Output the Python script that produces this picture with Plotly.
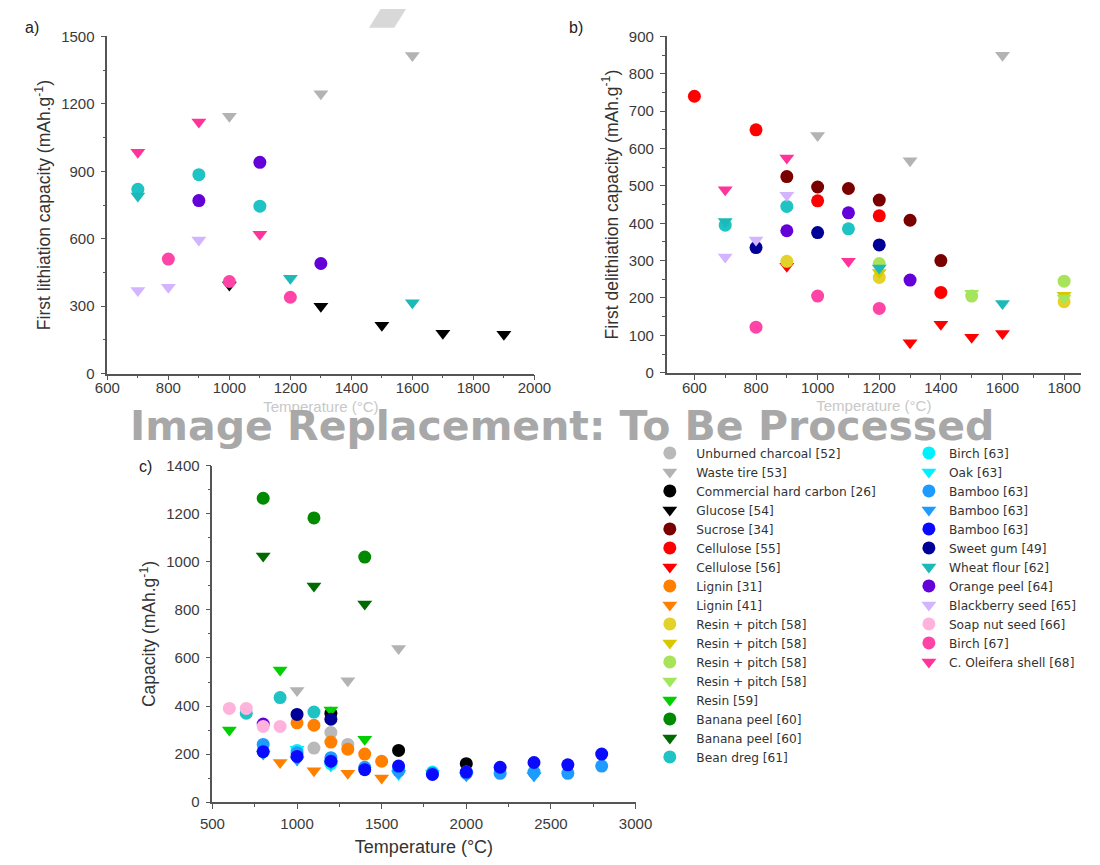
import plotly.graph_objects as go

# ---------------- data (temperature °C, capacity mAh/g) ----------------
unburned_charcoal_c = [(1100, 225), (1200, 290), (1300, 240)]
waste_tire_a = [(1000, 1145), (1300, 1245), (1600, 1415)]
waste_tire_b = [(1000, 635), (1300, 567), (1600, 850)]
waste_tire_c = [(1000, 465), (1300, 505), (1600, 640)]
hard_carbon_c = [(1200, 370), (1600, 215), (2000, 160)]
glucose_a = [(1000, 395), (1300, 300), (1500, 215), (1700, 180), (1900, 175)]
sucrose_b = [(900, 525), (1000, 497), (1100, 493), (1200, 462), (1300, 408), (1400, 300)]
cellulose55_b = [(600, 740), (800, 650), (1000, 460), (1200, 420), (1400, 215)]
cellulose56_b = [(900, 285), (1300, 80), (1400, 130), (1500, 95), (1600, 105)]
lignin31_c = [(1000, 330), (1100, 320), (1200, 250), (1300, 220), (1400, 200), (1500, 170)]
lignin41_c = [(900, 165), (1100, 130), (1300, 120), (1500, 100)]
resin_pitch1_b = [(900, 298), (1200, 255), (1800, 190)]
resin_pitch2_b = [(1200, 268), (1800, 207)]
resin_pitch3_b = [(1200, 292), (1500, 205), (1800, 245)]
resin_pitch4_b = [(1500, 213), (1800, 200)]
resin59_c = [(600, 300), (900, 550), (1200, 383), (1400, 262)]
banana1_c = [(800, 1265), (1100, 1183), (1400, 1020)]
banana2_c = [(800, 1025), (1100, 900), (1400, 825)]
bean_dreg_a = [(700, 820), (900, 885), (1100, 745)]
bean_dreg_b = [(700, 395), (900, 445), (1100, 385)]
bean_dreg_c = [(700, 370), (900, 435), (1100, 375)]
birch63_c = [(1000, 215), (1200, 160), (1600, 140), (1800, 125), (2000, 125)]
oak63_c = [(1000, 220), (1200, 150), (1600, 115), (1800, 120), (2400, 110)]
bamboo1_c = [(800, 240), (1000, 205), (1200, 185), (1400, 145), (1600, 130), (1800, 120),
             (2000, 120), (2200, 120), (2400, 125), (2600, 120), (2800, 150)]
bamboo2_c = [(800, 200), (1000, 175), (1200, 160), (1600, 120), (2000, 110), (2400, 110)]
bamboo3_c = [(800, 210), (1000, 190), (1200, 170), (1400, 135), (1600, 150), (1800, 115),
             (2000, 125), (2200, 145), (2400, 165), (2600, 155), (2800, 200)]
sweet_gum_b = [(800, 335), (1000, 375), (1200, 342)]
sweet_gum_c = [(1000, 365), (1200, 345)]
wheat_flour_a = [(700, 790), (1200, 425), (1600, 315)]
wheat_flour_b = [(700, 405), (1200, 280), (1600, 185)]
orange_peel_a = [(900, 770), (1100, 940), (1300, 490)]
orange_peel_b = [(900, 380), (1100, 428), (1300, 248)]
orange_peel_c = [(800, 325)]
blackberry_a = [(700, 370), (800, 385), (900, 595)]
blackberry_b = [(700, 310), (800, 355), (900, 475)]
soap_nut_c = [(600, 390), (700, 390), (800, 315), (900, 315)]
birch67_a = [(800, 510), (1000, 410), (1200, 340)]
birch67_b = [(800, 122), (1000, 205), (1200, 172)]
oleifera_a = [(700, 985), (900, 1120), (1100, 620)]
oleifera_b = [(700, 490), (900, 575), (1100, 298)]

# (name, colour, symbol, data a, data b, data c, legend)
series = [
    ("Unburned charcoal [52]", "#b9b9b9", "circle", None, None, unburned_charcoal_c, 1),
    ("Waste tire [53]", "#b3b3b3", "triangle-down", waste_tire_a, waste_tire_b, waste_tire_c, 1),
    ("Commercial hard carbon [26]", "#000000", "circle", None, None, hard_carbon_c, 1),
    ("Glucose [54]", "#000000", "triangle-down", glucose_a, None, None, 1),
    ("Sucrose [34]", "#7a0000", "circle", None, sucrose_b, None, 1),
    ("Cellulose [55]", "#ff0000", "circle", None, cellulose55_b, None, 1),
    ("Cellulose [56]", "#ff0000", "triangle-down", None, cellulose56_b, None, 1),
    ("Lignin [31]", "#ff8000", "circle", None, None, lignin31_c, 1),
    ("Lignin [41]", "#ff8000", "triangle-down", None, None, lignin41_c, 1),
    ("Resin + pitch [58]", "#e3d22a", "circle", None, resin_pitch1_b, None, 1),
    ("Resin + pitch [58] ", "#d9c800", "triangle-down", None, resin_pitch2_b, None, 1),
    ("Resin + pitch [58]  ", "#a9e35a", "circle", None, resin_pitch3_b, None, 1),
    ("Resin + pitch [58]   ", "#a2e65c", "triangle-down", None, resin_pitch4_b, None, 1),
    ("Resin [59]", "#00d000", "triangle-down", None, None, resin59_c, 1),
    ("Banana peel [60]", "#008a00", "circle", None, None, banana1_c, 1),
    ("Banana peel [60] ", "#006a00", "triangle-down", None, None, banana2_c, 1),
    ("Bean dreg [61]", "#1fc3c3", "circle", bean_dreg_a, bean_dreg_b, bean_dreg_c, 1),
    ("Birch [63]", "#00f0ff", "circle", None, None, birch63_c, 2),
    ("Oak [63]", "#00f0ff", "triangle-down", None, None, oak63_c, 2),
    ("Bamboo [63]", "#1e9bff", "circle", None, None, bamboo1_c, 2),
    ("Bamboo [63] ", "#1e9bff", "triangle-down", None, None, bamboo2_c, 2),
    ("Bamboo [63]  ", "#0a0aff", "circle", None, None, bamboo3_c, 2),
    ("Sweet gum [49]", "#000096", "circle", None, sweet_gum_b, sweet_gum_c, 2),
    ("Wheat flour [62]", "#1cb9b9", "triangle-down", wheat_flour_a, wheat_flour_b, None, 2),
    ("Orange peel [64]", "#6400d8", "circle", orange_peel_a, orange_peel_b, orange_peel_c, 2),
    ("Blackberry seed [65]", "#d2b4ff", "triangle-down", blackberry_a, blackberry_b, None, 2),
    ("Soap nut seed [66]", "#ffb3dc", "circle", None, None, soap_nut_c, 2),
    ("Birch [67]", "#ff44a8", "circle", birch67_a, birch67_b, None, 2),
    ("C. Oleifera shell [68]", "#ff3399", "triangle-down", oleifera_a, oleifera_b, None, 2),
]

axes_pairs = [("x", "y"), ("x2", "y2"), ("x3", "y3")]

fig = go.Figure()
for name, color, symbol, da, db, dc, leg in series:
    first = True
    for data, (xa, ya) in zip((da, db, dc), axes_pairs):
        if not data:
            continue
        fig.add_trace(go.Scatter(
            x=[p[0] for p in data], y=[p[1] for p in data],
            mode="markers", name=name, legendgroup=name,
            showlegend=first, legend="legend" if leg == 1 else "legend2",
            marker=dict(color=color, symbol=symbol, size=13, line=dict(width=0)),
            xaxis=xa, yaxis=ya,
        ))
        first = False

W, H = 1100, 865
def px_x(v): return v / W
def px_y(v): return 1 - v / H

FONT = "Arial, Liberation Sans, sans-serif"
LEGFONT = "DejaVu Sans, sans-serif"
axis_common = dict(showgrid=False, zeroline=False, showline=True, linecolor="#555555",
                   linewidth=1.6, ticks="outside", ticklen=5, tickwidth=1.4,
                   tickcolor="#555555", tickfont=dict(family=FONT, size=15, color="#3a3a3a"),
                   mirror=False)

def minor(d):
    return dict(ticks="outside", ticklen=3, tickwidth=1.2, tickcolor="#555555", dtick=d)

TITLE_FONT = dict(family=FONT, size=17.5, color="#333333")

fig.update_layout(
    width=W, height=H, margin=dict(l=0, r=0, t=0, b=0),
    plot_bgcolor="white", paper_bgcolor="white",
    font=dict(family=FONT, color="#333333"),
    xaxis=dict(domain=[px_x(97), px_x(536)], range=[600, 2000], dtick=200, minor=minor(100),
               anchor="y", ticklabelstandoff=-5,
               title=dict(text="Temperature (°C)", font=dict(family=FONT, size=15, color="#c8c8c8"), standoff=6),
               **axis_common),
    yaxis=dict(domain=[px_y(372), px_y(28)], range=[0, 1500], dtick=300, minor=minor(150),
               anchor="x", ticklabelstandoff=3,
               title=dict(text="First lithiation capacity (mAh.g<sup>-1</sup>)", font=TITLE_FONT, standoff=6),
               **axis_common),
    xaxis2=dict(domain=[px_x(672), px_x(1098)], range=[510, 1855], dtick=200, minor=minor(100),
                anchor="y2", ticklabelstandoff=-5,
                title=dict(text="Temperature (°C)", font=dict(family=FONT, size=15, color="#c8c8c8"), standoff=6),
                **axis_common),
    yaxis2=dict(domain=[px_y(371), px_y(28)], range=[0, 900], dtick=100, minor=minor(50),
                anchor="x2", ticklabelstandoff=3,
                title=dict(text="First delithiation capacity (mAh.g<sup>-1</sup>)", font=TITLE_FONT, standoff=6),
                **axis_common),
    xaxis3=dict(domain=[px_x(205), px_x(640)], range=[500, 3000], dtick=500, minor=minor(250),
                anchor="y3", ticklabelstandoff=2,
                title=dict(text="Temperature (°C)", font=dict(family=FONT, size=18, color="#333333"), standoff=9),
                **axis_common),
    yaxis3=dict(domain=[px_y(809), px_y(466)], range=[0, 1400], dtick=200, minor=minor(100),
                anchor="x3", ticklabelstandoff=3,
                title=dict(text="Capacity (mAh.g<sup>-1</sup>)", font=TITLE_FONT, standoff=6),
                **axis_common),
    legend=dict(x=px_x(648), y=px_y(438), xanchor="left", yanchor="top", itemwidth=43,
                font=dict(family=LEGFONT, size=12.2, color="#333333"), tracegroupgap=0,
                bgcolor="rgba(0,0,0,0)", itemclick=False, itemdoubleclick=False),
    legend2=dict(x=px_x(921), y=px_y(438), xanchor="left", yanchor="top",
                 font=dict(family=LEGFONT, size=12.2, color="#333333"), tracegroupgap=0,
                 bgcolor="rgba(0,0,0,0)", itemclick=False, itemdoubleclick=False),
    showlegend=True,
)

annotations = [
    dict(text="a)", x=px_x(10), y=px_y(19), xref="paper", yref="paper", showarrow=False,
         font=dict(family=FONT, size=16, color="#222222"), xanchor="left", yanchor="middle"),
    dict(text="b)", x=px_x(570), y=px_y(19), xref="paper", yref="paper", showarrow=False,
         font=dict(family=FONT, size=16, color="#222222"), xanchor="left", yanchor="middle"),
    dict(text="c)", x=px_x(127), y=px_y(467), xref="paper", yref="paper", showarrow=False,
         font=dict(family=FONT, size=16, color="#222222"), xanchor="left", yanchor="middle"),
    dict(text="<b>Image Replacement: To Be Processed</b>", x=px_x(564), y=px_y(425),
         xref="paper", yref="paper", showarrow=False,
         font=dict(family="DejaVu Sans, Verdana, sans-serif", size=41, color="#a8a8a8"),
         xanchor="center", yanchor="middle"),
]
fig.update_layout(annotations=annotations)

fig.add_shape(type="path", xref="paper", yref="paper",
              path=f"M {px_x(378)} {px_y(0)} L {px_x(404)} {px_y(0)} L {px_x(392)} {px_y(19)} L {px_x(366)} {px_y(19)} Z",
              fillcolor="#d8d8d8", line=dict(width=0), layer="above")

fig.write_html("out.html")
